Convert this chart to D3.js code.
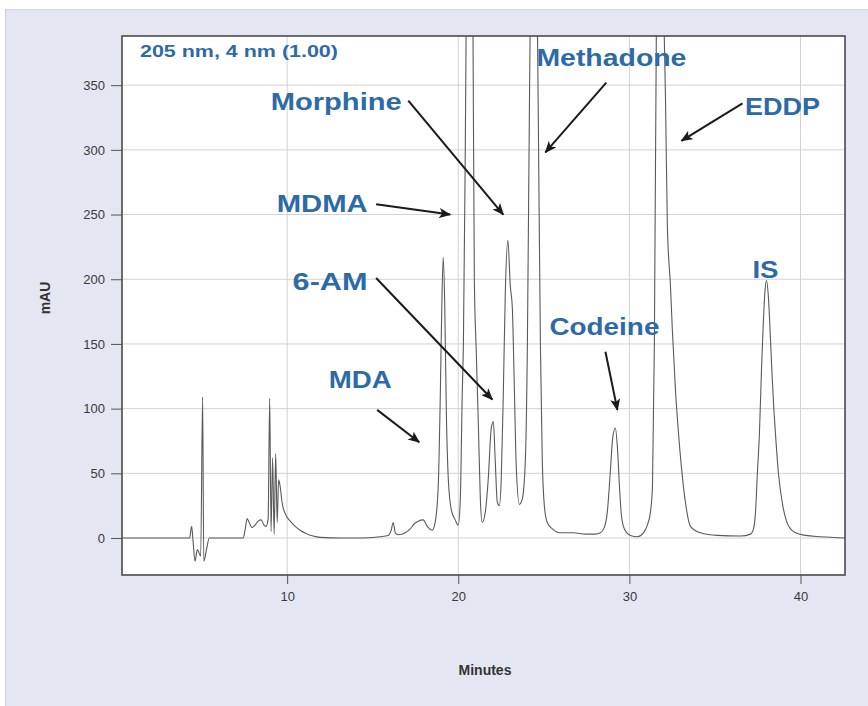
<!DOCTYPE html>
<html>
<head>
<meta charset="utf-8">
<script src="https://cdn.jsdelivr.net/npm/d3@7"></script>
<style>
  body { margin: 0; background: #fff; }
  .axis text { font-family: "Liberation Sans Narrow", "Liberation Sans", Arial, sans-serif; font-size: 13px; fill: #3a3a3a; }
  .axis line { stroke: #555; }
  .grid line { stroke: #d2d2d2; stroke-width: 1; }
  .peak-label { font-family: "Liberation Sans", Arial, sans-serif; font-weight: bold; fill: #2d6aa8; }
  .axis-title { font-family: "Liberation Sans Narrow", "Liberation Sans", Arial, sans-serif; font-weight: bold; font-size: 14px; fill: #333; }
</style>
</head>
<body>
<script>
// tick values
const xTicks = [10, 20, 30, 40];
const yTicks = [0, 50, 100, 150, 200, 250, 300, 350];

// chromatogram trace, [minutes, mAU]
const trace = [
  [0.35, 0], [4.3, 0], [4.42, 9], [4.5, -2], [4.62, -18], [4.75, -9], [4.95, -14],
  [5.06, 109], [5.13, -18], [5.3, -8], [5.45, 0],
  [7.43, 0], [7.54, 6], [7.66, 15], [7.78, 12], [7.95, 8], [8.13, 10], [8.3, 13],
  [8.48, 14], [8.65, 10], [8.77, 9], [8.89, 15], [8.98, 108], [9.06, 5], [9.15, 62],
  [9.24, 3], [9.33, 65], [9.42, 12], [9.5, 45], [9.59, 40], [9.71, 27], [9.88, 19],
  [10.18, 13], [10.47, 9], [10.76, 6], [11.1, 3.5], [11.52, 1.5], [11.93, 0.5],
  [13.1, 0], [14.27, 0], [15.44, 1], [15.9, 2], [16.08, 6], [16.2, 12], [16.32, 4],
  [16.5, 2.5], [16.9, 4], [17.19, 7], [17.43, 11], [17.66, 13], [17.95, 14],
  [18.19, 9], [18.48, 6], [18.65, 12], [18.83, 40], [18.95, 110], [19.04, 180],
  [19.12, 217], [19.21, 180], [19.3, 100], [19.42, 45], [19.59, 22], [19.82, 14],
  [20.0, 10], [20.12, 30], [20.23, 110], [20.3, 150], [20.41, 300], [20.53, 500],
  [20.7, 560], [20.85, 420], [20.94, 200], [21.05, 145], [21.17, 90], [21.29, 30],
  [21.4, 12], [21.58, 20], [21.75, 45], [21.93, 85], [22.05, 90], [22.16, 60],
  [22.28, 28], [22.4, 25], [22.51, 45], [22.63, 110], [22.75, 190], [22.9, 230],
  [23.04, 195], [23.16, 178], [23.27, 120], [23.39, 55], [23.57, 26], [23.74, 30],
  [23.92, 60], [24.04, 150], [24.15, 320], [24.27, 480], [24.42, 540], [24.56, 480],
  [24.68, 320], [24.8, 150], [24.91, 60], [25.03, 25], [25.2, 12], [25.5, 7],
  [25.96, 4], [26.73, 4], [27.43, 3], [28.0, 3], [28.3, 4], [28.53, 8], [28.71, 20],
  [28.88, 50], [29.03, 78], [29.18, 85], [29.3, 70], [29.42, 40], [29.53, 18],
  [29.71, 7], [30.06, 2], [30.47, 1], [30.82, 4], [31.05, 10], [31.23, 20],
  [31.35, 40], [31.46, 150], [31.58, 400], [31.75, 520], [31.99, 420], [32.11, 340],
  [32.22, 241], [32.4, 195], [32.51, 161], [32.69, 115], [32.87, 81], [33.04, 55],
  [33.27, 28], [33.57, 9], [34.15, 4], [35.15, 2], [36.5, 1.5], [37.08, 3],
  [37.25, 7], [37.37, 20], [37.48, 50], [37.6, 81], [37.72, 130], [37.81, 161],
  [37.92, 190], [38.01, 199], [38.13, 185], [38.25, 152], [38.36, 120], [38.45, 98],
  [38.54, 80], [38.71, 50], [38.95, 26], [39.18, 13], [39.42, 7], [39.71, 4],
  [40.29, 2], [41.17, 1], [42.6, 0]
];

// peak annotations: label anchor and arrow, in minutes / mAU
const peakNames = ["Morphine", "MDMA", "Methadone", "EDDP", "6-AM", "IS", "Codeine", "MDA"];
const labelAt = [[12.87, 331], [12.05, 252], [28.95, 365], [38.95, 327], [12.51, 192], [37.95, 201], [28.54, 157], [14.27, 116]];
const arrowFrom = [[17.08, 338], [15.2, 258], [28.65, 352], [36.61, 336], [15.2, 201], null, [28.6, 144], [15.26, 99]];
const arrowTo = [[22.63, 250], [19.53, 250], [25.09, 298], [33.04, 307], [21.99, 107], null, [29.3, 99], [17.72, 74]];
const labelWidth = [131, 91, 150, 75, 75, 26, 110, 63];

const detector = "205 nm, 4 nm (1.00)";

let margin = {top: 36, left: 122, right: 23, bottom: 131};
let width = 868 - margin.left - margin.right;
let height = 706 - margin.top - margin.bottom;

let svg = d3.select("body").append("svg")
  .attr("width", 868)
  .attr("height", 706);

// panel background
svg.append("rect")
  .attr("x", 5.5).attr("y", 9.5)
  .attr("width", 870).attr("height", 700)
  .attr("fill", "#e4e6f1")
  .attr("stroke", "#cfd1dc");

let defs = svg.append("defs");
defs.append("clipPath").attr("id", "plot-clip")
  .append("rect").attr("width", width).attr("height", height);
defs.append("marker")
  .attr("id", "arrowhead")
  .attr("viewBox", "0 0 12 10")
  .attr("refX", 11).attr("refY", 5)
  .attr("markerWidth", 12).attr("markerHeight", 10)
  .attr("markerUnits", "userSpaceOnUse")
  .attr("orient", "auto")
  .append("path")
  .attr("d", "M0,0 L12,5 L0,10 L3,5 Z")
  .attr("fill", "#1a1a1a");

let g = svg.append("g").attr("transform", `translate(${margin.left}, ${margin.top})`);

let x = d3.scaleLinear().domain([0.35, 42.6]).range([0, width]);
let y = d3.scaleLinear().domain([-28.6, 388]).range([height, 0]);

g.append("rect").attr("width", width).attr("height", height).attr("fill", "#fff");

// grid
g.append("g").attr("class", "grid")
  .selectAll("line.h").data(yTicks).enter().append("line")
  .attr("x1", 0).attr("x2", width)
  .attr("y1", d => y(d)).attr("y2", d => y(d));
g.append("g").attr("class", "grid")
  .selectAll("line.v").data(xTicks).enter().append("line")
  .attr("y1", 0).attr("y2", height)
  .attr("x1", d => x(d)).attr("x2", d => x(d));

// axes
g.append("g").attr("class", "axis")
  .call(d3.axisLeft(y).tickValues(yTicks).tickSize(11).tickPadding(6))
  .call(a => a.select(".domain").remove());
g.append("g").attr("class", "axis")
  .attr("transform", `translate(0, ${height})`)
  .call(d3.axisBottom(x).tickValues(xTicks).tickSize(9).tickPadding(8))
  .call(a => a.select(".domain").remove());

// trace
let line = d3.line()
  .x(d => x(d[0]))
  .y(d => y(d[1]))
  .curve(d3.curveMonotoneX);
g.append("path")
  .datum(trace)
  .attr("clip-path", "url(#plot-clip)")
  .attr("fill", "none")
  .attr("stroke", "#5a5a5a")
  .attr("stroke-width", 1.1)
  .attr("d", line);

// frame
g.append("rect").attr("width", width).attr("height", height)
  .attr("fill", "none").attr("stroke", "#4a4a4a").attr("stroke-width", 1.6);

// arrows
peakNames.forEach((name, i) => {
  if (!arrowFrom[i]) return;
  g.append("line")
    .attr("x1", x(arrowFrom[i][0])).attr("y1", y(arrowFrom[i][1]))
    .attr("x2", x(arrowTo[i][0])).attr("y2", y(arrowTo[i][1]))
    .attr("stroke", "#1a1a1a").attr("stroke-width", 2)
    .attr("marker-end", "url(#arrowhead)");
});

// peak labels
g.selectAll("text.peak-label").data(peakNames).enter().append("text")
  .attr("class", "peak-label")
  .attr("x", (d, i) => x(labelAt[i][0]))
  .attr("y", (d, i) => y(labelAt[i][1]))
  .attr("text-anchor", "middle")
  .attr("font-size", 23)
  .attr("textLength", (d, i) => labelWidth[i])
  .attr("lengthAdjust", "spacingAndGlyphs")
  .text(d => d);

g.append("text")
  .attr("class", "peak-label")
  .attr("x", x(1.4)).attr("y", y(372))
  .attr("font-size", 16)
  .attr("textLength", 198)
  .attr("lengthAdjust", "spacingAndGlyphs")
  .text(detector);

// axis titles
svg.append("text").attr("class", "axis-title")
  .attr("transform", "translate(50, 298) rotate(-90)")
  .attr("text-anchor", "middle")
  .text("mAU");
svg.append("text").attr("class", "axis-title")
  .attr("x", 485).attr("y", 675)
  .attr("text-anchor", "middle")
  .text("Minutes");
</script>
</body>
</html>
